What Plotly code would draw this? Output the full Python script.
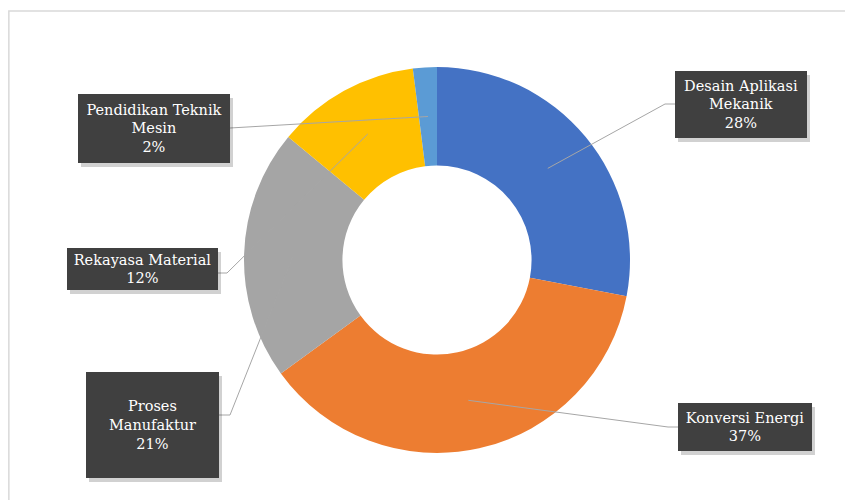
import math
import plotly.graph_objects as go

W, H = 853, 500
OFF = 8  # page offset of the plot inside the browser window

categories = ["Desain Aplikasi Mekanik", "Konversi Energi", "Proses Manufaktur",
              "Rekayasa Material", "Pendidikan Teknik Mesin"]
values = [28, 37, 21, 12, 2]
label_lines = [["Desain Aplikasi", "Mekanik"], ["Konversi Energi"], ["Proses", "Manufaktur"],
               ["Rekayasa Material"], ["Pendidikan Teknik", "Mesin"]]
colors = ["#4472C4", "#ED7D31", "#A5A5A5", "#FFC000", "#5B9BD5"]

# layout (window pixels)
cx, cy, R, HOLE = 437, 260, 193, 0.49
boxes = [
    (675, 71, 807, 138),
    (678, 403, 812, 451),
    (86, 372, 219, 478),
    (67, 248, 218, 290),
    (78, 94, 230, 163),
]
anchors = [(675, 104), (678, 427), (219, 415), (218, 273), (230, 128)]
elbows = [(665, 104), (668, 427), (230, 415), (227, 273), (230, 128)]

def px(x):
    return (x - OFF) / W

def py(y):
    return 1 - (y - OFF) / H

fig = go.Figure()
fig.add_trace(go.Pie(
    labels=categories, values=values, hole=HOLE, sort=False, direction="clockwise",
    rotation=0, marker=dict(colors=colors, line=dict(width=0)), textinfo="none",
    showlegend=False,
    domain=dict(x=[px(cx - R), px(cx + R)], y=[py(cy + R), py(cy - R)]),
))

shapes = []
annotations = []
shapes.append(dict(type="rect", xref="paper", yref="paper", x0=0.001, y0=-0.05,
                   x1=1.05, y1=py(11), line=dict(color="#d9d9d9", width=1.5)))

total = sum(values)
cum = 0
rmid = R * (1 + HOLE) / 2
for i, v in enumerate(values):
    mid = (cum + v / 2) / total * 2 * math.pi
    cum += v
    sx = cx + rmid * math.sin(mid)
    sy = cy - rmid * math.cos(mid)
    ax, ay = anchors[i]
    ex, ey = elbows[i]
    shapes.append(dict(type="path", xref="paper", yref="paper",
                       path=f"M {px(sx)} {py(sy)} L {px(ex)} {py(ey)} L {px(ax)} {py(ay)}",
                       line=dict(color="#a6a6a6", width=1)))
    x0, y0, x1, y1 = boxes[i]
    shapes.append(dict(type="rect", xref="paper", yref="paper", x0=px(x0 + 3), x1=px(x1 + 3),
                       y0=py(y1 + 4), y1=py(y0 + 4), line=dict(width=0),
                       fillcolor="rgba(0,0,0,0.18)"))
    pct = round(v / total * 100)
    text = "<br>".join(label_lines[i] + [f"{pct}%"])
    annotations.append(dict(
        xref="paper", yref="paper", x=px((x0 + x1) / 2), y=py((y0 + y1) / 2),
        xanchor="center", yanchor="middle", text=text, showarrow=False,
        width=x1 - x0, height=y1 - y0, bgcolor="#404040", borderpad=0,
        borderwidth=0,
        font=dict(family="DejaVu Serif, Liberation Serif, serif", size=14.5, color="white"),
        align="center",
    ))

fig.update_layout(
    width=W, height=H, margin=dict(l=0, r=0, t=0, b=0),
    paper_bgcolor="white", plot_bgcolor="white",
    shapes=shapes, annotations=annotations,
)
fig.write_html("out.html")
